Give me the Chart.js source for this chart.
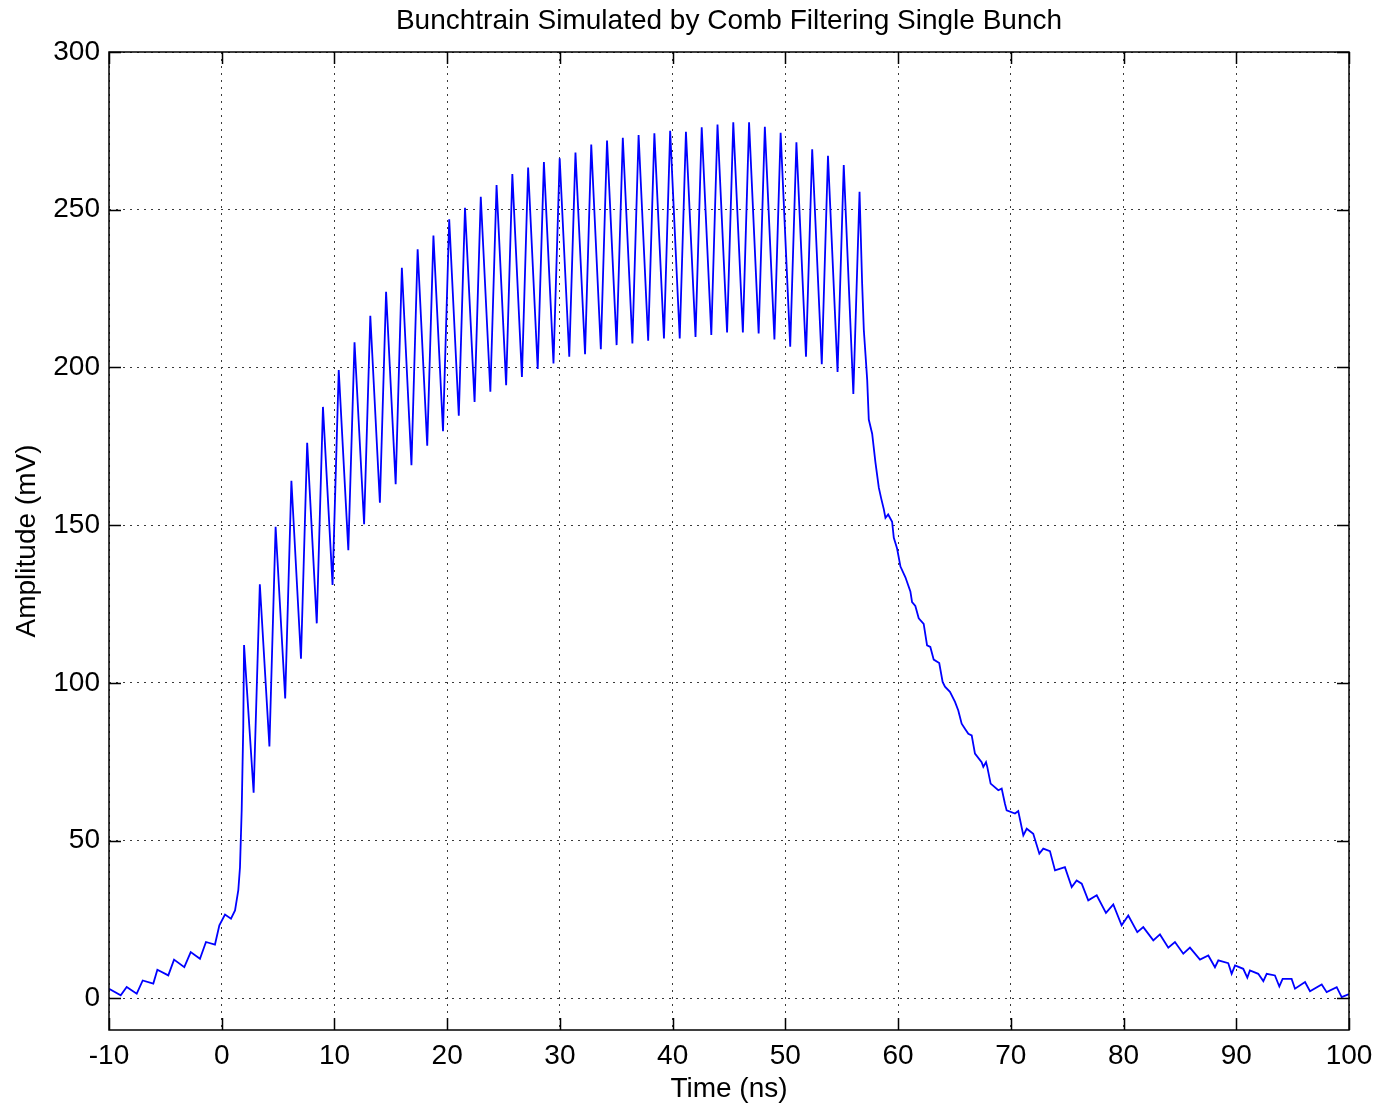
<!DOCTYPE html>
<html>
<head>
<meta charset="utf-8">
<title>Bunchtrain Simulated by Comb Filtering Single Bunch</title>
<script src="https://cdn.jsdelivr.net/npm/chart.js@4.4.1/dist/chart.umd.min.js"></script>
<style>
    html, body { margin: 0; padding: 0; background: #ffffff; }
    #wrap { width: 1377px; height: 1107px; }
</style>
</head>
<body>
<div id="wrap"><canvas id="bunchChart" width="1377" height="1107"></canvas></div>
<script>
// ========================================
// Data
// ========================================

// baseline before the train, and the first steep edge
const riseTime = [-10, -8.96, -8.43, -7.54, -7.01, -6.07, -5.71, -4.74, -4.23, -3.32, -2.75, -1.93,
    -1.40, -0.60, -0.21, 0.29, 0.82, 1.18, 1.47, 1.62, 1.77, 1.91];
const riseAmp = [3.1, 1.0, 3.6, 1.5, 5.7, 4.7, 9.1, 7.3, 12.3, 9.9, 14.7, 12.6,
    17.9, 17.1, 23.2, 26.6, 25.3, 27.9, 34.3, 41.6, 59.6, 86];

// bunch peaks (40 bunches)
const peakTime = [1.98, 3.38, 4.78, 6.18, 7.58, 8.98, 10.38, 11.78, 13.18, 14.58,
    15.98, 17.38, 18.78, 20.18, 21.58, 22.98, 24.38, 25.78, 27.18, 28.58,
    29.98, 31.38, 32.78, 34.18, 35.58, 36.98, 38.38, 39.78, 41.18, 42.58,
    43.98, 45.38, 46.78, 48.18, 49.58, 50.98, 52.38, 53.78, 55.18, 56.58];
const peakAmp = [112.0, 131.3, 149.5, 164.1, 176.1, 187.5, 199.2, 208.0, 216.4, 224.0,
    231.6, 237.5, 241.8, 247.0, 250.6, 254.1, 257.8, 261.3, 263.4, 265.1,
    266.3, 268.1, 270.7, 271.9, 272.8, 273.7, 274.2, 275.0, 274.7, 276.1,
    277.0, 277.7, 277.7, 276.3, 274.4, 271.4, 269.2, 267.1, 264.2, 255.7];

// valleys between bunches
const troughTime = [2.83, 4.23, 5.63, 7.03, 8.43, 9.83, 11.23, 12.63, 14.03, 15.43,
    16.83, 18.23, 19.63, 21.03, 22.43, 23.83, 25.23, 26.63, 28.03, 29.43,
    30.83, 32.23, 33.63, 35.03, 36.43, 37.83, 39.23, 40.63, 42.03, 43.43,
    44.83, 46.23, 47.63, 49.03, 50.43, 51.83, 53.23, 54.63, 56.03];
const troughAmp = [65.2, 79.9, 95.1, 107.7, 118.9, 131.1, 142.1, 150.3, 157.1, 163.0,
    169.0, 175.2, 179.8, 184.7, 189.1, 192.3, 194.4, 197.0, 199.5, 201.3,
    203.4, 204.2, 205.8, 207.1, 207.6, 208.5, 209.2, 209.2, 209.7, 210.3,
    211.1, 211.1, 210.8, 208.9, 206.6, 203.4, 201.0, 198.6, 191.6];

// decay after the last bunch
const decayTime = [56.81, 56.96, 57.11, 57.26, 57.40, 57.70, 57.99, 58.29, 58.50, 58.73,
    58.88, 59.12, 59.47, 59.62, 59.91, 60.21, 60.65, 61.09, 61.24, 61.53,
    61.83, 62.27, 62.57, 62.86, 63.16, 63.65, 63.95, 64.16, 64.60, 65.05,
    65.34, 65.64, 65.93, 66.23, 66.53, 66.82, 67.41, 67.56, 67.80, 67.91,
    68.21, 68.89, 69.19, 69.48, 69.63, 70.37, 70.66, 71.11, 71.41, 71.99,
    72.53, 72.88, 73.47, 73.92, 74.80, 75.40, 75.84, 76.29, 76.87, 77.62,
    78.44, 79.09, 79.83, 80.42, 81.22, 81.75, 82.64, 83.23, 83.97, 84.56,
    85.30, 85.89, 86.78, 87.52, 88.11, 88.41, 89.29, 89.59, 89.89, 90.62,
    90.98, 91.21, 91.95, 92.40, 92.70, 93.43, 93.82, 94.11, 94.91, 95.21,
    96.10, 96.54, 97.58, 98.02, 98.91, 99.35, 99.94, 100];
const decayAmp = [226.7, 211.9, 204.0, 196.0, 183.5, 179.0, 169.9, 161.9, 158.5, 155.1,
    152.3, 153.4, 151.1, 146.0, 142.6, 136.9, 133.5, 129.0, 125.6, 124.4,
    120.5, 118.7, 111.9, 111.4, 107.4, 106.3, 100.3, 98.8, 97.2, 94.0,
    91.3, 87.1, 85.5, 83.9, 83.4, 77.6, 74.9, 73.4, 74.9, 73.4,
    68.1, 66.0, 66.5, 61.7, 59.6, 58.6, 59.4, 51.7, 53.8, 52.2,
    45.9, 47.5, 46.7, 40.6, 41.6, 35.3, 37.4, 36.4, 31.1, 32.7,
    27.1, 29.8, 23.2, 26.3, 21.0, 22.6, 18.4, 20.3, 16.1, 17.9,
    14.2, 16.1, 12.3, 13.6, 9.9, 12.1, 11.2, 7.8, 10.5, 9.4,
    6.6, 8.9, 7.8, 5.5, 7.8, 7.3, 3.8, 6.2, 6.2, 3.1,
    5.2, 2.3, 4.4, 2.0, 3.6, 0.4, 1.3, 1.3];

const xTicks = [-10, 0, 10, 20, 30, 40, 50, 60, 70, 80, 90, 100];
const yTicks = [0, 50, 100, 150, 200, 250, 300];

// ========================================
// Build the trace
// ========================================

function buildTrace() {
    const pts = [];
    riseTime.forEach((t, i) => pts.push({ x: t, y: riseAmp[i] }));
    peakTime.forEach((t, i) => {
        pts.push({ x: t, y: peakAmp[i] });
        if (i < troughTime.length) {
            pts.push({ x: troughTime[i], y: troughAmp[i] });
        }
    });
    decayTime.forEach((t, i) => pts.push({ x: t, y: decayAmp[i] }));
    return pts;
}

// MATLAB style box with inward ticks
const matlabBox = {
    id: 'matlabBox',
    afterDatasetsDraw(chart) {
        const { ctx, chartArea: a, scales } = chart;
        const len = 12;
        ctx.save();
        ctx.strokeStyle = '#000000';
        ctx.lineWidth = 1.5;
        ctx.setLineDash([]);
        ctx.beginPath();
        xTicks.forEach(v => {
            const px = Math.round(scales.x.getPixelForValue(v)) + 0.5;
            ctx.moveTo(px, a.bottom);
            ctx.lineTo(px, a.bottom - len);
            ctx.moveTo(px, a.top);
            ctx.lineTo(px, a.top + len);
        });
        yTicks.forEach(v => {
            const py = Math.round(scales.y.getPixelForValue(v)) + 0.5;
            ctx.moveTo(a.left, py);
            ctx.lineTo(a.left + len, py);
            ctx.moveTo(a.right, py);
            ctx.lineTo(a.right - len, py);
        });
        ctx.stroke();
        ctx.strokeRect(a.left, a.top, a.right - a.left, a.bottom - a.top);
        ctx.restore();
    }
};

const font = { family: "'Liberation Sans', Arial, sans-serif", size: 28, weight: 'normal' };
const grid = {
    color: '#3a3a3a',
    lineWidth: 1,
    drawTicks: false
};

new Chart(document.getElementById('bunchChart'), {
    type: 'line',
    data: {
        datasets: [{
            data: buildTrace(),
            borderColor: '#0000ff',
            borderWidth: 1.8,
            pointRadius: 0,
            tension: 0,
            fill: false
        }]
    },
    options: {
        responsive: false,
        animation: false,
        devicePixelRatio: 1,
        layout: { padding: { left: 0, right: 28, top: 0, bottom: 0 } },
        plugins: {
            legend: { display: false },
            tooltip: { enabled: false },
            title: {
                display: true,
                fullSize: false,
                text: 'Bunchtrain Simulated by Comb Filtering Single Bunch',
                color: '#000000',
                font: font,
                padding: { top: 4, bottom: 14.4 }
            }
        },
        scales: {
            x: {
                type: 'linear',
                min: -10,
                max: 100,
                afterBuildTicks: axis => { axis.ticks = xTicks.map(v => ({ value: v })); },
                afterFit: axis => {
                    axis.height = 77;
                    axis.paddingLeft = 0;
                    axis.paddingRight = 0;
                },
                grid: grid,
                border: { display: false, dash: [2, 5] },
                ticks: { color: '#000000', font: font, padding: 9, maxRotation: 0 },
                title: {
                    display: true,
                    text: 'Time (ns)',
                    color: '#000000',
                    font: font,
                    padding: { top: 0, bottom: 1 }
                }
            },
            y: {
                type: 'linear',
                min: -10,
                max: 300,
                afterBuildTicks: axis => { axis.ticks = yTicks.map(v => ({ value: v })); },
                afterFit: axis => { axis.width = 109; },
                grid: grid,
                border: { display: false, dash: [2, 5] },
                ticks: { color: '#000000', font: font, padding: 9 },
                title: {
                    display: true,
                    text: 'Amplitude (mV)',
                    color: '#000000',
                    font: font,
                    padding: { top: 10, bottom: 0 }
                }
            }
        }
    },
    plugins: [matlabBox]
});
</script>
</body>
</html>
